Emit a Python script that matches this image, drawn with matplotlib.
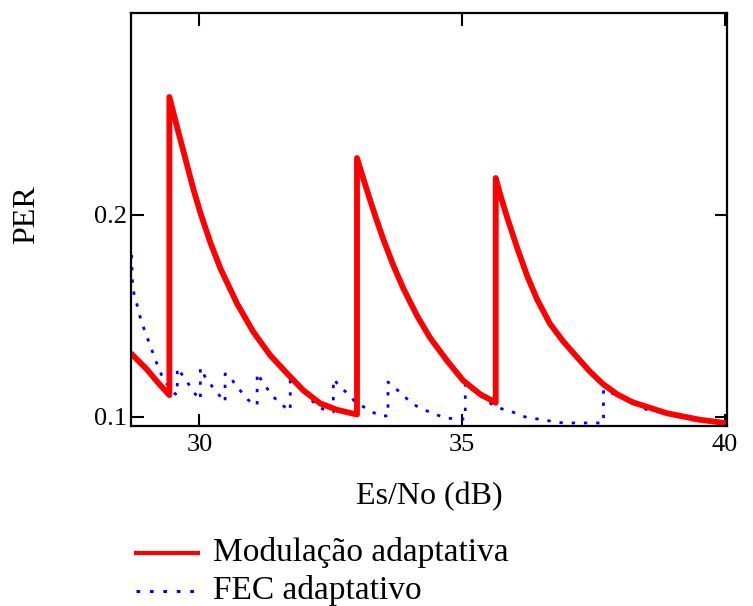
import matplotlib
matplotlib.use("Agg")
import matplotlib.pyplot as plt
from matplotlib.lines import Line2D

# Packet error rate versus Es/No for the two adaptive schemes
mod_esno = [28.71, 29.01, 29.22, 29.41, 29.43, 29.43,
            29.58, 29.70, 29.89, 30.02, 30.21, 30.40, 30.72, 31.03, 31.35,
            31.67, 31.98, 32.30, 32.62, 32.93, 33.00, 33.00,
            33.12, 33.25, 33.38, 33.50, 33.69, 33.88, 34.14, 34.39, 34.72,
            35.02, 35.34, 35.63, 35.64, 35.64,
            35.72, 35.86, 36.05, 36.24, 36.43, 36.67, 36.92, 37.19, 37.43,
            37.68, 37.95, 38.25, 38.90, 39.52, 40.00]
mod_per = [0.1312, 0.1233, 0.1168, 0.1114, 0.1108, 0.2584,
           0.2432, 0.2313, 0.2125, 0.2011, 0.1863, 0.1736, 0.1560, 0.1420, 0.1305,
           0.1215, 0.1131, 0.1067, 0.1035, 0.1016, 0.1012, 0.2282,
           0.2180, 0.2073, 0.1970, 0.1880, 0.1751, 0.1637, 0.1502, 0.1392, 0.1276,
           0.1180, 0.1113, 0.1072, 0.1070, 0.2183,
           0.2105, 0.1985, 0.1835, 0.1697, 0.1580, 0.1462, 0.1375, 0.1295, 0.1225,
           0.1163, 0.1112, 0.1072, 0.1018, 0.0986, 0.0970]

fec_esno = [28.71, 28.73, 28.76, 28.82, 28.86, 28.92, 28.97, 29.05, 29.11, 29.18,
            29.24, 29.32, 29.43, 29.54, 29.58,
            29.58, 29.73, 29.83, 29.92, 30.02,
            30.02, 30.11, 30.25, 30.36, 30.48, 30.49,
            30.49, 30.59, 30.68, 30.82, 30.93, 31.06, 31.10,
            31.10, 31.20, 31.31, 31.41, 31.58, 31.69, 31.73,
            31.73, 31.88, 32.02, 32.15, 32.26, 32.43, 32.55,
            32.55, 32.68, 32.83, 32.95, 33.10, 33.25, 33.44, 33.59,
            33.59, 33.69, 33.86, 33.97, 34.13, 34.28, 34.47, 34.68, 34.90, 35.06,
            35.06, 35.19, 35.32, 35.48, 35.63, 35.82, 36.01, 36.20, 36.43, 36.67,
            36.92, 37.19, 37.47, 37.68, 37.69,
            37.69, 37.76, 37.95, 38.14, 38.33, 38.52, 38.73, 38.95, 39.20, 39.39,
            39.66, 39.90, 40.00]
fec_per = [0.1802, 0.1663, 0.1604, 0.1550, 0.1505, 0.1460, 0.1416, 0.1366, 0.1322, 0.1272,
           0.1233, 0.1183, 0.1149, 0.1114, 0.1110,
           0.1243, 0.1188, 0.1149, 0.1114, 0.1084,
           0.1243, 0.1198, 0.1149, 0.1114, 0.1074, 0.1074,
           0.1213, 0.1203, 0.1158, 0.1119, 0.1084, 0.1059, 0.1059,
           0.1218, 0.1173, 0.1134, 0.1099, 0.1059, 0.1035, 0.1030,
           0.1193, 0.1149, 0.1114, 0.1079, 0.1050, 0.1030, 0.1025,
           0.1188, 0.1149, 0.1114, 0.1079, 0.1054, 0.1030, 0.1005, 0.1005,
           0.1173, 0.1149, 0.1114, 0.1084, 0.1054, 0.1035, 0.1015, 0.0995, 0.0990, 0.0990,
           0.1173, 0.1139, 0.1109, 0.1079, 0.1050, 0.1035, 0.1020, 0.1000, 0.0990, 0.0980,
           0.0970, 0.0970, 0.0970, 0.0970, 0.0970,
           0.1134, 0.1124, 0.1109, 0.1084, 0.1059, 0.1035, 0.1025, 0.1010, 0.0995, 0.0985,
           0.0980, 0.0970, 0.0970]

x_ticks = [30, 35, 40]
y_ticks = [0.1, 0.2]
y_tick_labels = ["0.1", "0.2"]
series_labels = ["Modulação adaptativa", "FEC adaptativo"]

plt.rcParams["font.family"] = ["Liberation Serif", "DejaVu Serif"]

W, H = 753, 606
fig = plt.figure(figsize=(W / 100, H / 100), dpi=100)
ax = fig.add_axes([131 / W, 1 - 426 / H, (727 - 131) / W, (426 - 13) / H])

red = "#ff0000"
blue = "#0000ff"
dotted = (0, (1.2, 3.2))
ax.plot(fec_esno, fec_per, color=blue, lw=2.0, linestyle=dotted,
        dash_capstyle="butt")
ax.plot(mod_esno, mod_per, color=red, lw=4.2, solid_joinstyle="round",
        solid_capstyle="round")

ax.set_xlim(28.7, 40.04)
ax.set_ylim(0.0955, 0.300)
ax.set_xticks(x_ticks)
ax.set_xticklabels([str(t) for t in x_ticks])
ax.set_yticks(y_ticks)
ax.set_yticklabels(y_tick_labels)
ax.tick_params(direction="in", length=9, width=1.5, top=True, right=True,
               labelsize=19, colors="black")
ax.tick_params(axis="x", pad=6)
ax.tick_params(axis="y", pad=3)
for s in ax.spines.values():
    s.set_linewidth(1.6)
    s.set_color("black")

fig.text(429 / W, 1 - 497 / H, "Es/No (dB)", ha="center", va="center", fontsize=23)
fig.text(27 / W, 1 - 215 / H, "PER", ha="center", va="center", fontsize=23,
         rotation=90)

# legend drawn below the axes
legend_rows = [(553, red, "-", 3.0), (591, blue, dotted, 2.2)]
for (yy, col, ls, lw), lab in zip(legend_rows, series_labels):
    fig.add_artist(Line2D([136 / W, 198 / W], [1 - yy / H, 1 - yy / H],
                          transform=fig.transFigure, color=col, lw=lw,
                          linestyle=ls))
    fig.text(213 / W, 1 - yy / H, lab, ha="left", va="center", fontsize=24)

fig.savefig("out.png", dpi=100)
